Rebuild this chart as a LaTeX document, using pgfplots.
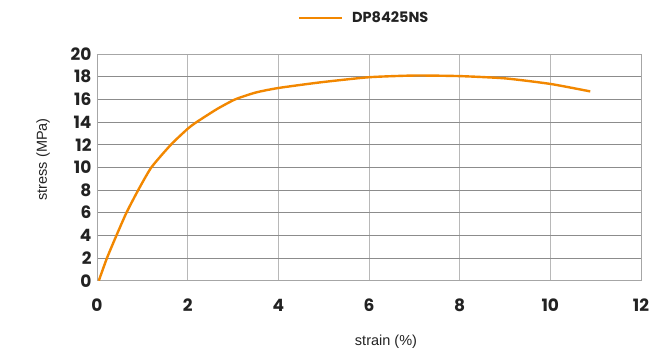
\documentclass[border=0pt]{standalone}
\usepackage{pgfplots}
\pgfplotsset{compat=1.18}
\usepackage{fontspec}
\setmainfont{Poppins}
\newfontfamily\labelfont{Liberation Sans}
\definecolor{lineorange}{RGB}{242,135,0}
\definecolor{tickgray}{RGB}{34,34,34}
\begin{document}
\begin{tikzpicture}
\useasboundingbox (-97pt,-71.3pt) rectangle (559pt,280.7pt);
\begin{axis}[
  scale only axis,
  width=544pt, height=226.7pt,
  xmin=0, xmax=12, ymin=0, ymax=20,
  xtick={0,2,...,12}, ytick={0,2,...,20},
  grid=major,
  x grid style={color=black!28, line width=0.8pt},
  y grid style={color=black!45, line width=0.8pt},
  axis line style={color=black!35, line width=0.8pt},
  tick style={draw=none},
  /pgf/number format/assume math mode=true,
  ticklabel style={font=\bfseries\fontsize{17}{17}\selectfont, text=tickgray},
  xticklabel style={yshift=-15pt},
  yticklabel style={xshift=-2pt},
  xlabel={strain (\%)},
  ylabel={stress (MPa)},
  label style={font=\labelfont\fontsize{14.5}{14.5}\selectfont, text=tickgray},
  xlabel style={at={(rel axis cs:0.5,0)}, anchor=center, yshift=-61pt, xshift=17pt},
  ylabel style={at={(rel axis cs:0,0.5)}, anchor=center, yshift=54pt, xshift=8pt},
  legend style={at={(rel axis cs:0.5,1)}, anchor=center, yshift=36pt, xshift=-5pt, draw=none, fill=none,
    font=\bfseries\fontsize{14.5}{14.5}\selectfont, text=tickgray},
  legend cell align=left,
  legend image code/.code={\draw[#1] (0pt,0pt) -- (43pt,0pt); \path (50pt,0pt);},
]
\addplot[color=lineorange, line width=2.4pt, smooth, tension=0.35] coordinates {
(0.04,0) (0.22,2) (0.43,4) (0.65,6) (0.91,8) (1.2,10) (1.63,12) (2.0,13.4) (2.2,14) (2.65,15.15) (3.05,16.0) (3.5,16.6) (4.0,17.0) (4.93,17.5) (6.0,17.95) (7.0,18.1) (8.0,18.05) (9.0,17.85) (10.0,17.36) (10.88,16.7)
};
\addlegendentry{DP8425NS}
\end{axis}
\end{tikzpicture}
\end{document}
